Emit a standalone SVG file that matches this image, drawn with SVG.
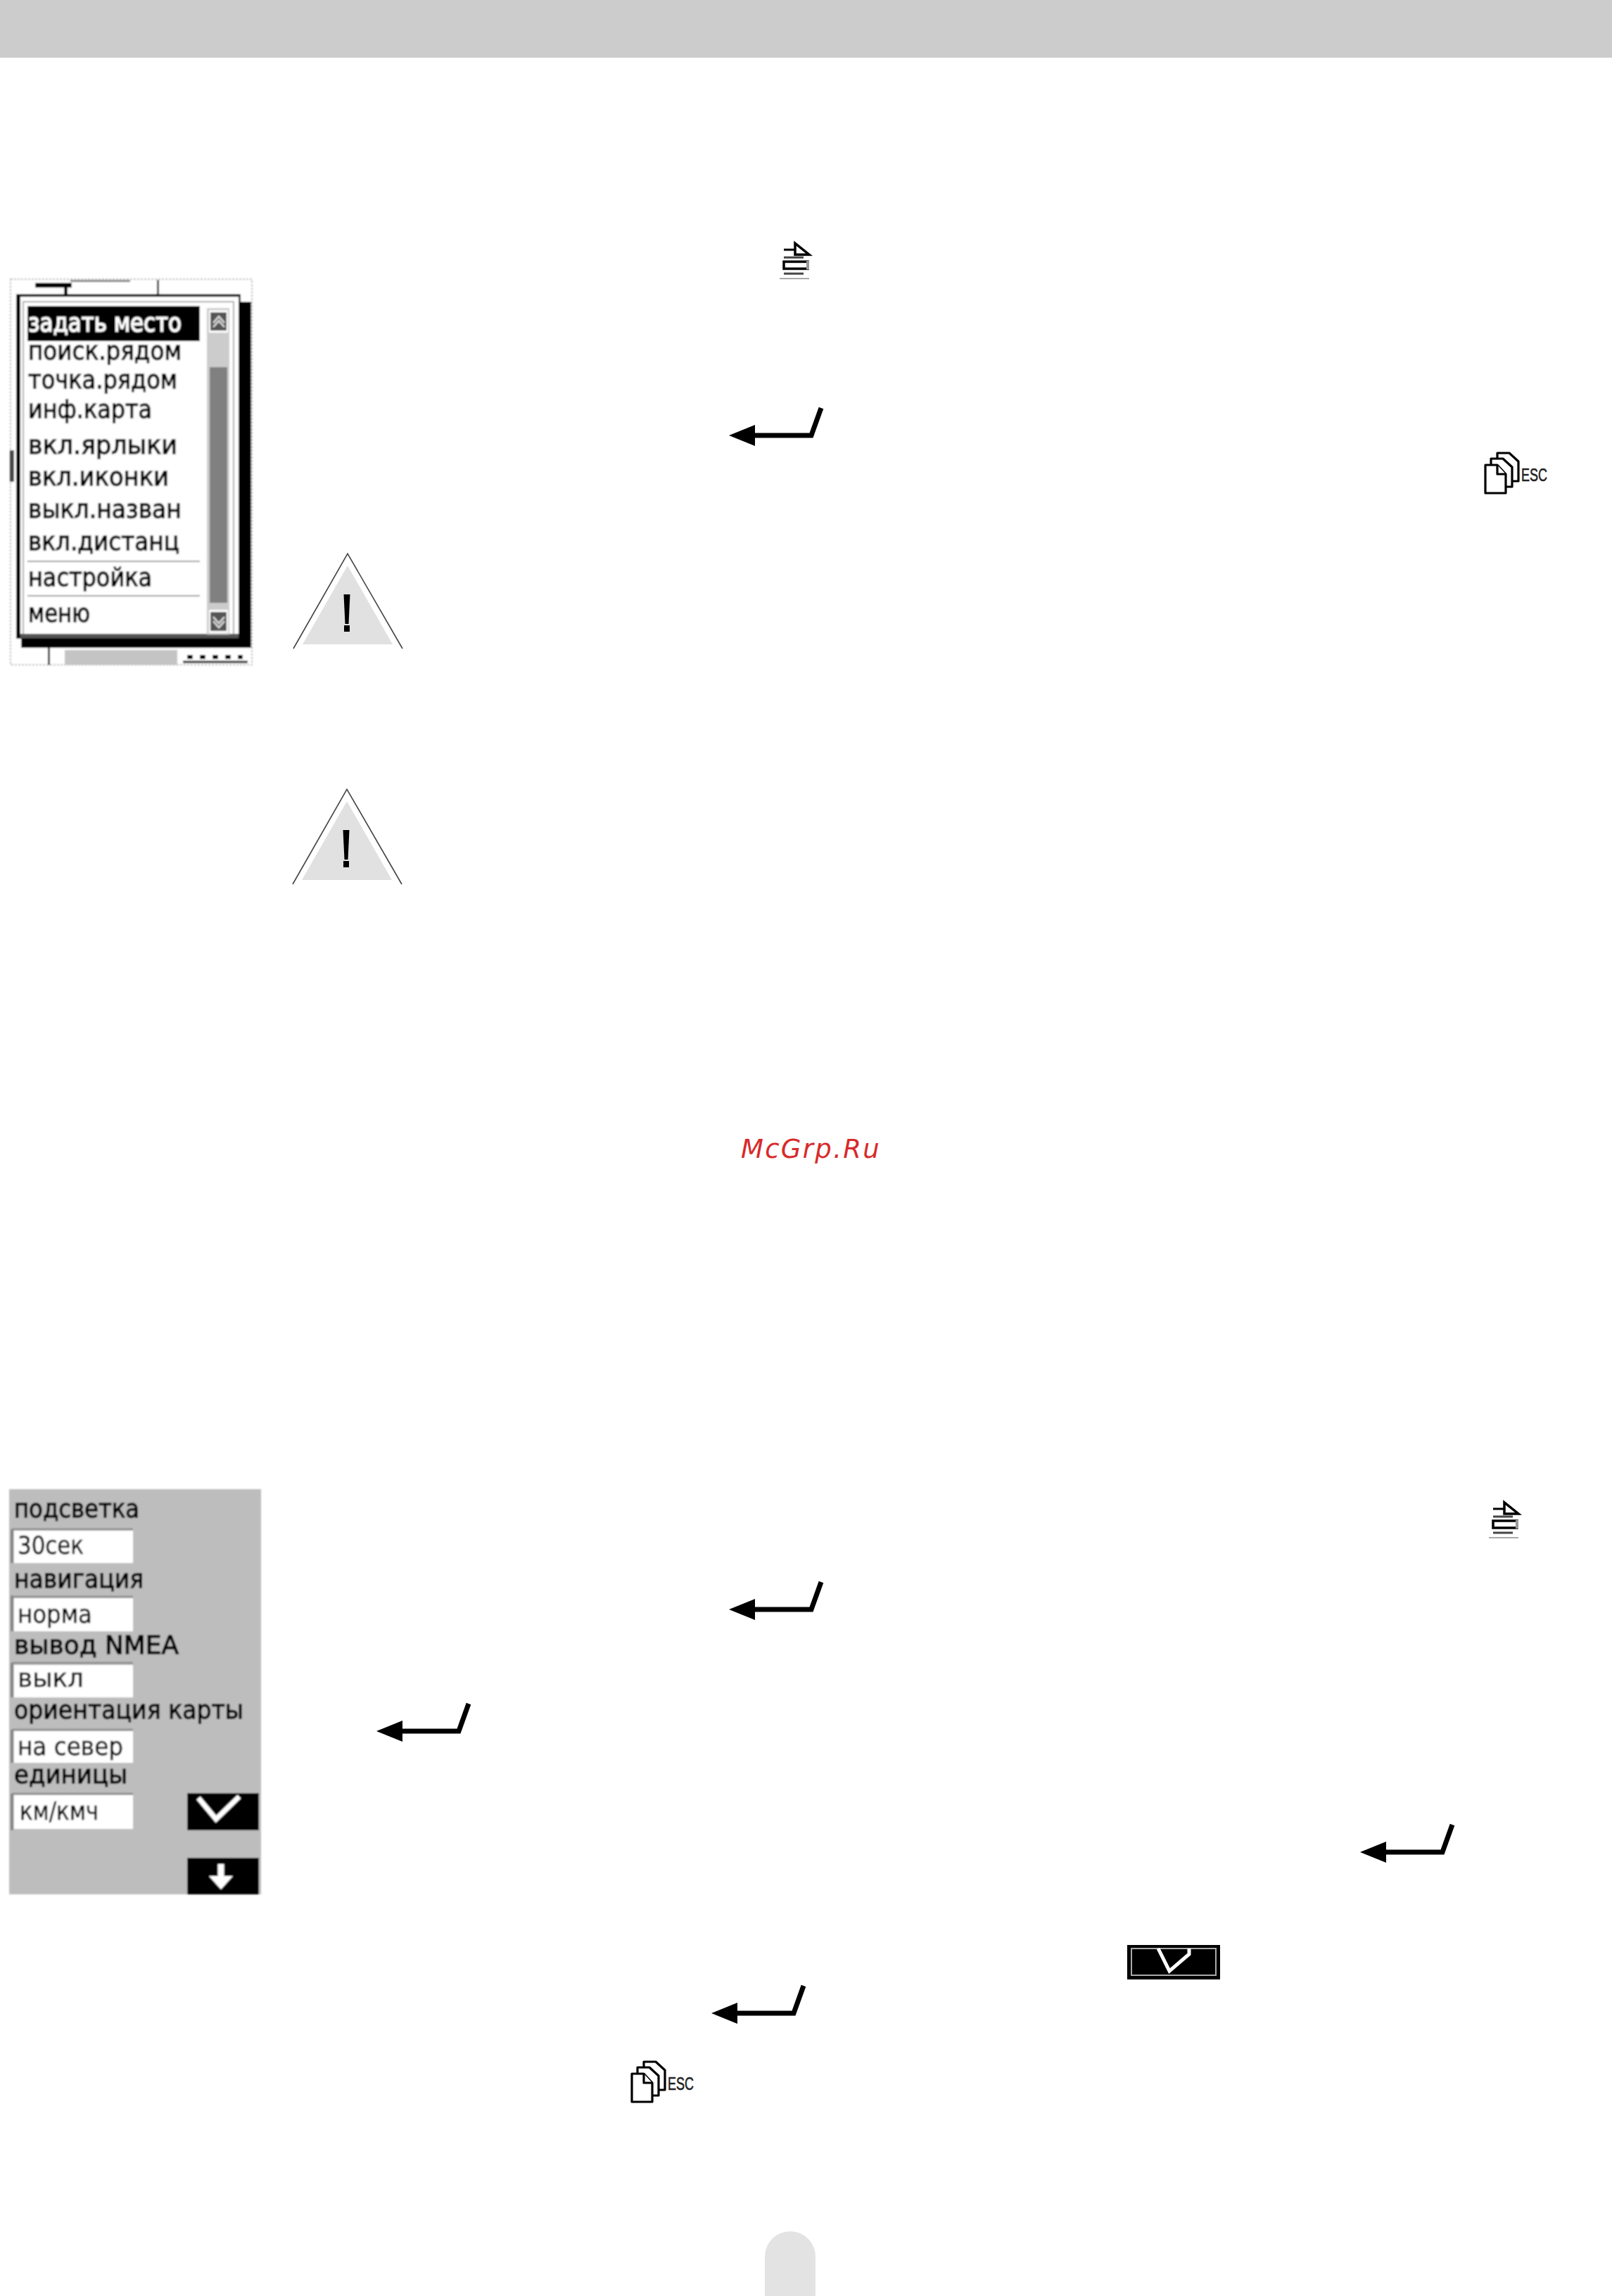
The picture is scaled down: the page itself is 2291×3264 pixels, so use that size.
<svg xmlns="http://www.w3.org/2000/svg" xmlns:xlink="http://www.w3.org/1999/xlink" width="2291" height="3264" viewBox="0 0 2291 3264">
<style>
.s{font-family:"DejaVu Sans",sans-serif;font-size:36px;fill:#000;stroke:#000;stroke-width:1.3}
.w{fill:#fff;stroke:#fff}
.t{stroke-width:.6}
</style>
<defs>
<filter id="soft" x="-5%" y="-5%" width="110%" height="110%"><feGaussianBlur stdDeviation="1.1"/></filter>
<filter id="soft2" x="-10%" y="-10%" width="120%" height="120%"><feGaussianBlur stdDeviation="0.6"/></filter>
<g id="enter"><path d="M36 1H117L131 -38" fill="none" stroke="#000" stroke-width="7"/><polygon points="0,1 37,-14 37,16" fill="#000"/></g>
<g id="menuicon" fill="none" stroke="#000" filter="url(#soft2)">
<path d="M6 12H22" stroke-width="3"/><path d="M22 3V19H42L22 3Z" stroke-width="3.5" fill="#fff"/>
<path d="M6 23H34" stroke="#444" stroke-width="3"/><rect x="6" y="29" width="34" height="10" stroke-width="3.5"/><rect x="38" y="28" width="4" height="12" fill="#999" stroke="none"/>
<path d="M6 46H34" stroke="#444" stroke-width="3"/><path d="M0 53H42" stroke="#aaa" stroke-width="2"/>
</g>
<g id="escicon">
<g fill="#fff" stroke="#000" stroke-width="3.2" stroke-linejoin="round">
<path d="M18 1H35L48 13V41H18Z"/><path d="M9 9H26L39 21V49H9Z"/><path d="M1 18H18L30 31V58H1Z"/><path d="M18 18V31H30"/>
</g>
<text x="52" y="41" font-family="'Liberation Sans',sans-serif" font-size="26" stroke="#222" stroke-width=".6" textLength="37" lengthAdjust="spacingAndGlyphs" fill="#222">ESC</text>
</g>
<g id="warn">
<path d="M0 135L77 0L155 135" fill="none" stroke="#444" stroke-width="1.6"/>
<polygon points="77,17 141,129 13,129" fill="#e1e1e1"/>
<polygon points="71.500,58 80.500,58 78.500,100 73.500,100" fill="#000"/><rect x="72" y="102" width="8" height="9" fill="#000"/>
</g>
</defs>
<rect id="page" width="2291" height="3264" fill="#fff"/>
<rect id="header-bar" width="2291" height="82" fill="#cccccc"/>
<path id="page-tab" d="M1087 3264V3208A36 36 0 0 1 1123 3172A36 36 0 0 1 1159 3208V3264Z" fill="#e3e3e3"/>

<g id="menu-screen" filter="url(#soft)">
<rect x="15" y="397" width="343" height="548" fill="#fff" stroke="#aaa" stroke-width="1.5" stroke-dasharray="3 2"/>
<rect x="50" y="402" width="52" height="7" fill="#000"/><rect x="100" y="398" width="85" height="3" fill="#888"/>
<rect x="223" y="398" width="3" height="20" fill="#333"/><rect x="91" y="409" width="5" height="9" fill="#000"/>
<rect x="14" y="640" width="6" height="45" fill="#444"/>
<rect x="30" y="429" width="327" height="492" fill="#000"/>
<rect x="23" y="418" width="319" height="490" fill="#000"/>
<rect x="29" y="422" width="310" height="483" fill="#fff"/>
<rect x="33" y="429" width="299" height="475" fill="#fff" stroke="#aaa" stroke-width="2"/>
<rect x="29" y="901" width="310" height="6" fill="#555"/>
<rect x="39" y="435" width="245" height="50" fill="#000"/>
<rect x="294" y="438" width="32" height="464" fill="#ccc"/>
<rect x="298" y="522" width="25" height="335" fill="#808080"/>
<rect x="297" y="441" width="27" height="32" fill="#fff"/><rect x="299" y="444" width="23" height="26" fill="#555"/>
<rect x="297" y="867" width="27" height="33" fill="#fff"/><rect x="299" y="870" width="23" height="27" fill="#555"/>
<path d="M303 459L311 450L319 459M303 465L311 456L319 465" fill="none" stroke="#ddd" stroke-width="2.500"/>
<path d="M303 877L311 886L319 877M303 883L311 892L319 883" fill="none" stroke="#ddd" stroke-width="2.500"/>
<path d="M39 798H284M39 847H284" stroke="#999" stroke-width="2"/>
<text class="s w" x="40" y="471" textLength="218" lengthAdjust="spacingAndGlyphs">задать место</text>
<text class="s" x="40" y="511" textLength="218" lengthAdjust="spacingAndGlyphs">поиск.рядом</text>
<text class="s" x="40" y="552" textLength="212" lengthAdjust="spacingAndGlyphs">точка.рядом</text>
<text class="s" x="40" y="594" textLength="176" lengthAdjust="spacingAndGlyphs">инф.карта</text>
<text class="s" x="40" y="645" textLength="212" lengthAdjust="spacingAndGlyphs">вкл.ярлыки</text>
<text class="s" x="40" y="690" textLength="200" lengthAdjust="spacingAndGlyphs">вкл.иконки</text>
<text class="s" x="40" y="736" textLength="218" lengthAdjust="spacingAndGlyphs">выкл.назван</text>
<text class="s" x="40" y="782" textLength="215" lengthAdjust="spacingAndGlyphs">вкл.дистанц</text>
<text class="s" x="40" y="833" textLength="176" lengthAdjust="spacingAndGlyphs">настройка</text>
<text class="s" x="40" y="884" textLength="88" lengthAdjust="spacingAndGlyphs">меню</text>
<rect x="92" y="924" width="160" height="21" fill="#c4c4c4"/>
<rect x="68" y="921" width="3" height="24" fill="#000"/>
<rect x="260" y="921" width="93" height="22" fill="#fff"/>
<path d="M260 941H352" stroke="#000" stroke-width="3"/>
<path d="M266 934H345" stroke="#000" stroke-width="6" stroke-dasharray="8 10"/>
</g>

<g id="settings-screen" filter="url(#soft)">
<rect x="13" y="2117" width="358" height="576" fill="#bdbdbd"/>
<g fill="#fff">
<rect x="20" y="2176" width="169" height="46"/><rect x="20" y="2272" width="169" height="47"/><rect x="20" y="2367" width="169" height="46"/><rect x="20" y="2461" width="169" height="45"/><rect x="20" y="2552" width="169" height="48"/>
</g>
<path d="M17 2174V2222M17 2268V2319M17 2364V2413M17 2459V2506M17 2550V2602" stroke="#777" stroke-width="3"/>
<path d="M17 2174H189M17 2270H189M17 2364H189M17 2459H189M17 2550H189" stroke="#888" stroke-width="2.500"/>
<text class="s" x="20" y="2157" textLength="178" lengthAdjust="spacingAndGlyphs">подсветка</text>
<text class="s t" x="25" y="2209" textLength="94" lengthAdjust="spacingAndGlyphs">30сек</text>
<text class="s" x="20" y="2257" textLength="184" lengthAdjust="spacingAndGlyphs">навигация</text>
<text class="s t" x="25" y="2307" textLength="106" lengthAdjust="spacingAndGlyphs">норма</text>
<text class="s" x="20" y="2351" textLength="234" lengthAdjust="spacingAndGlyphs">вывод NMEA</text>
<text class="s t" x="25" y="2398" textLength="94" lengthAdjust="spacingAndGlyphs">выкл</text>
<text class="s" x="20" y="2443" textLength="326" lengthAdjust="spacingAndGlyphs">ориентация карты</text>
<text class="s t" x="25" y="2495" textLength="150" lengthAdjust="spacingAndGlyphs">на север</text>
<text class="s" x="20" y="2535" textLength="161" lengthAdjust="spacingAndGlyphs">единицы</text>
<text class="s t" x="28" y="2587" textLength="112" lengthAdjust="spacingAndGlyphs">км/кмч</text>
<g id="btn-check"><rect x="266" y="2549" width="102" height="53" fill="#000"/><path d="M282 2556L307 2586L340 2554" fill="none" stroke="#fff" stroke-width="7"/></g>
<g id="btn-down"><rect x="266" y="2641" width="102" height="52" fill="#000"/><path d="M314 2650V2672" stroke="#fff" stroke-width="9"/><polygon points="297,2667 331,2667 314,2686" fill="#fff"/></g>
</g>

<g id="icons">
<use id="menu-icon-1" xlink:href="#menuicon" href="#menuicon" x="1108" y="343"/>
<use id="menu-icon-2" xlink:href="#menuicon" href="#menuicon" x="2116" y="2133"/>
<use id="esc-icon-1" xlink:href="#escicon" href="#escicon" x="2110" y="643"/>
<use id="esc-icon-2" xlink:href="#escicon" href="#escicon" x="897" y="2930"/>
<use id="warn-1" xlink:href="#warn" href="#warn" x="417" y="787"/>
<use id="warn-2" xlink:href="#warn" href="#warn" x="416" y="1122"/>
</g>

<g id="enter-arrows">
<use xlink:href="#enter" href="#enter" x="1036" y="618"/>
<use xlink:href="#enter" href="#enter" x="1036" y="2287"/>
<use xlink:href="#enter" href="#enter" x="535" y="2460"/>
<use xlink:href="#enter" href="#enter" x="1933" y="2632"/>
<use xlink:href="#enter" href="#enter" x="1011" y="2861"/>
</g>

<g id="check-button" filter="url(#soft2)">
<rect x="1602" y="2765" width="132" height="49" fill="#000"/>
<rect x="1608" y="2770" width="120" height="38" fill="none" stroke="#aaa" stroke-width="2"/>
<path d="M1646 2770L1662 2802L1690 2778L1690 2770" fill="none" stroke="#fff" stroke-width="5"/>
</g>

<text id="watermark" x="1053" y="1646" font-family="'DejaVu Sans',sans-serif" font-style="italic" font-size="37" letter-spacing="2.300" fill="#d82a2a">McGrp.Ru</text>
</svg>
